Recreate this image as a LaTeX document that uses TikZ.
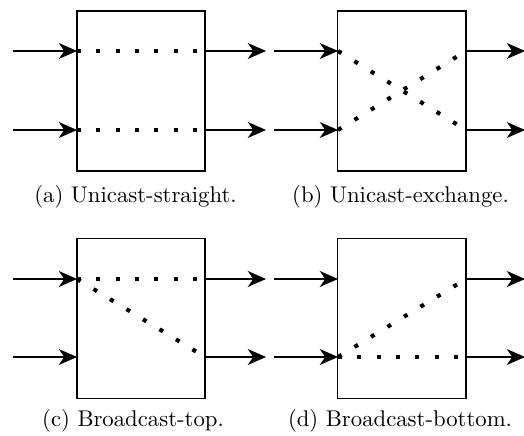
\documentclass[tikz,border=0pt]{standalone}
\usetikzlibrary{arrows.meta}
\begin{document}
\begin{tikzpicture}[x=0.44pt,y=-0.44pt,
  switchbox/.style={draw,line width=0.8pt,inner sep=0pt,outer sep=0pt,minimum width=56.4pt,minimum height=70.4pt},
  arr/.style={line width=0.85pt,-{Stealth[length=8pt,width=7pt,inset=2.4pt]}},
  dotpath/.style={line width=1.8pt,dash pattern=on 1.8pt off 6.7pt},
  captext/.style={anchor=base,inner sep=0pt}]
\useasboundingbox (0,0) rectangle (524,436);
% ---------- (a)
\node[switchbox] (a) at (141,91) {};
\coordinate (a-i1) at (77,51);  \coordinate (a-i2) at (77,130);
\coordinate (a-o1) at (205,51); \coordinate (a-o2) at (205,130);
\coordinate (a-s1) at (13,51);  \coordinate (a-s2) at (13,130);
\coordinate (a-e1) at (266,51); \coordinate (a-e2) at (266,130);
\draw[arr] (a-s1) -- (a-i1); \draw[arr] (a-s2) -- (a-i2);
\draw[arr] (a-o1) -- (a-e1); \draw[arr] (a-o2) -- (a-e2);
\draw[dotpath] (a-i1) -- (a-o1); \draw[dotpath] (a-i2) -- (a-o2);
\node[captext] (a-cap) at (135.5,202.5) {(a)~Unicast-straight.};
% ---------- (b)
\node[switchbox] (b) at (401.5,91) {};
\coordinate (b-i1) at (338,51);  \coordinate (b-i2) at (338,130);
\coordinate (b-o1) at (466,51); \coordinate (b-o2) at (466,130);
\coordinate (b-s1) at (274,51);  \coordinate (b-s2) at (274,130);
\coordinate (b-e1) at (525,51); \coordinate (b-e2) at (525,130);
\draw[arr] (b-s1) -- (b-i1); \draw[arr] (b-s2) -- (b-i2);
\draw[arr] (b-o1) -- (b-e1); \draw[arr] (b-o2) -- (b-e2);
\draw[dotpath] (b-i1) -- (b-o2); \draw[dotpath] (b-i2) -- (b-o1);
\node[captext] (b-cap) at (400.5,202.5) {(b)~Unicast-exchange.};
% ---------- (c)
\node[switchbox] (c) at (141,318.5) {};
\coordinate (c-i1) at (77,279);  \coordinate (c-i2) at (77,357);
\coordinate (c-o1) at (205,279); \coordinate (c-o2) at (205,357);
\coordinate (c-s1) at (13,279);  \coordinate (c-s2) at (13,357);
\coordinate (c-e1) at (266,279); \coordinate (c-e2) at (266,357);
\draw[arr] (c-s1) -- (c-i1); \draw[arr] (c-s2) -- (c-i2);
\draw[arr] (c-o1) -- (c-e1); \draw[arr] (c-o2) -- (c-e2);
\draw[dotpath] (c-i1) -- (c-o1); \draw[dotpath] (c-i1) -- (c-o2);
\node[captext] (c-cap) at (133,426.5) {(c)~Broadcast-top.};
% ---------- (d)
\node[switchbox] (d) at (401.5,318.5) {};
\coordinate (d-i1) at (338,279);  \coordinate (d-i2) at (338,357);
\coordinate (d-o1) at (466,279); \coordinate (d-o2) at (466,357);
\coordinate (d-s1) at (274,279);  \coordinate (d-s2) at (274,357);
\coordinate (d-e1) at (525,279); \coordinate (d-e2) at (525,357);
\draw[arr] (d-s1) -- (d-i1); \draw[arr] (d-s2) -- (d-i2);
\draw[arr] (d-o1) -- (d-e1); \draw[arr] (d-o2) -- (d-e2);
\draw[dotpath] (d-i2) -- (d-o2); \draw[dotpath] (d-i2) -- (d-o1);
\node[captext] (d-cap) at (400,426.5) {(d)~Broadcast-bottom.};
\end{tikzpicture}
\end{document}
